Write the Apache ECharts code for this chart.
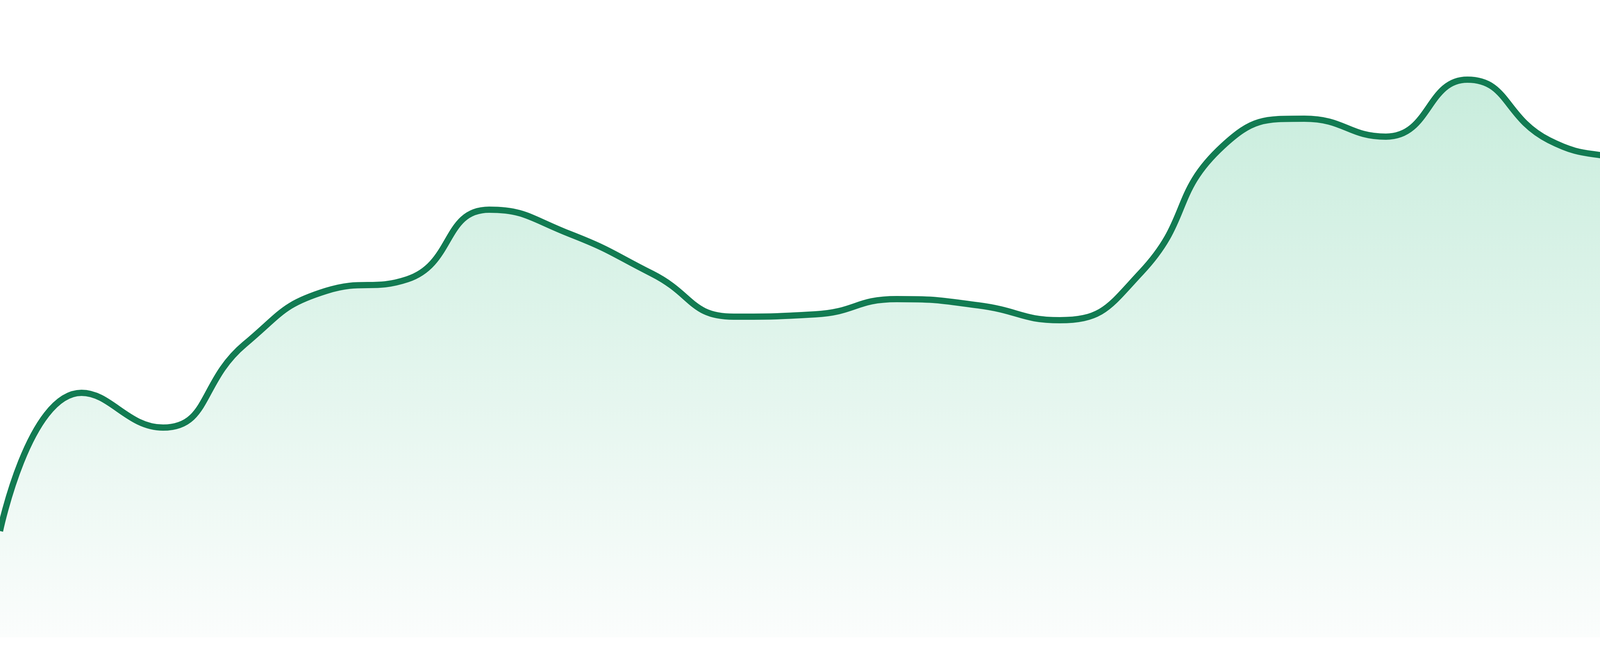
<!DOCTYPE html>
<html>
<head>
<meta charset="utf-8">
<script src="https://cdn.jsdelivr.net/npm/echarts@6/dist/echarts.min.js"></script>
<style>
html,body{margin:0;padding:0;background:#fff;}
#chart{width:4800px;height:1680px;}
</style>
</head>
<body>
<div id="chart"></div>
<script>
const categories = ['1','2','3','4','5','6','7','8','9','10','11','12','13','14','15','16','17','18','19','20','21','22','23','24'];
const values = [272, 626, 537, 750, 887, 917, 1095, 1032, 931, 821, 827, 866, 850, 812, 935, 1258, 1328, 1282, 1428, 1273, 1217, 1145, 1140, 1093];
const yMin = 0;
const yMax = 1632;

const chart = echarts.init(document.getElementById('chart'), null, {renderer: 'canvas'});
chart.setOption({
  animation: false,
  backgroundColor: '#ffffff',
  grid: {left: 0, right: 0, top: 0, bottom: 48, containLabel: false},
  xAxis: {type: 'category', data: categories, boundaryGap: false, show: false},
  yAxis: {type: 'value', min: yMin, max: yMax, show: false, splitLine: {show: false}},
  series: [{
    type: 'line',
    data: values,
    smooth: true,
    symbol: 'none',
    lineStyle: {color: '#127b52', width: 16},
    areaStyle: {
      color: new echarts.graphic.LinearGradient(0, 0, 0, 1, [
        {offset: 0, color: '#b1e5ce'},
        {offset: 1, color: '#f9fcfb'}
      ])
    }
  }]
});
</script>
</body>
</html>
